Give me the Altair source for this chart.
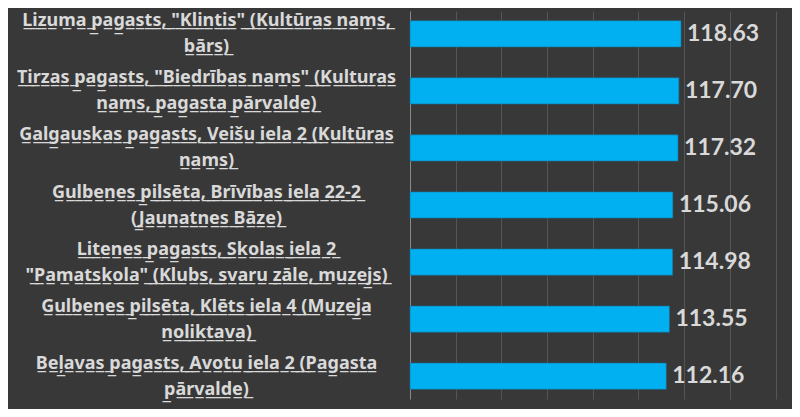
import altair as alt
import pandas as pd

line1 = [
    'Lizuma pagasts, "Klintis" (Kultūras nams,',
    'Tirzas pagasts, "Biedrības nams" (Kulturas',
    'Galgauskas pagasts, Veišu iela 2 (Kultūras',
    'Gulbenes pilsēta, Brīvības iela 22-2',
    'Litenes pagasts, Skolas iela 2',
    'Gulbenes pilsēta, Klēts iela 4 (Muzeja',
    'Beļavas pagasts, Avotu iela 2 (Pagasta',
]
line2 = [
    'bārs)',
    'nams, pagasta pārvalde)',
    'nams)',
    '(Jaunatnes Bāze)',
    '"Pamatskola" (Klubs, svaru zāle, muzejs)',
    'noliktava)',
    'pārvalde)',
]
values = [118.63, 117.70, 117.32, 115.06, 114.98, 113.55, 112.16]


def underline(s):
    return "".join(ch + "\u0332" for ch in s)


labels = [underline(a) + "|" + underline(b) for a, b in zip(line1, line2)]
df = pd.DataFrame({"label": labels, "value": values,
                   "txt": [f"{v:.2f}" for v in values]})

LFONT = "Noto Sans"
VFONT = "Lato"
TXT = "#d9d9d9"

y = alt.Y(
    "label:N",
    sort=None,
    title=None,
    scale=alt.Scale(paddingInner=0.54, paddingOuter=0.17),
    axis=alt.Axis(
        labelExpr="split(datum.label, '|')",
        labelAlign="center",
        labelBaseline="middle",
        labelOffset=-12.5,
        labelPadding=204,
        labelLineHeight=26,
        labelFont=LFONT,
        labelFontSize=18,
        labelFontWeight="bold",
        labelColor=TXT,
        labelLimit=0,
        ticks=False,
        tickSize=0,
        domain=True,
        domainColor="#8a8a8a",
        domainWidth=1,
        grid=False,
    ),
)

x = alt.X(
    "value:Q",
    title=None,
    scale=alt.Scale(domain=[0, 167.2], nice=False, zero=True),
    axis=alt.Axis(
        values=[0, 20, 40, 60, 80, 100, 120, 140, 160],
        labels=False,
        ticks=False,
        domain=False,
        grid=True,
        gridColor="#555555",
        gridWidth=1,
    ),
)

bars = alt.Chart(df).mark_bar(
    color="#00b0f0", stroke="#1a6e94", strokeWidth=0.6
).encode(x=x, y=y)

text = alt.Chart(df).mark_text(
    align="left", baseline="middle", dx=6, font=VFONT, fontSize=23,
    fontWeight="bold", color=TXT
).encode(x="value:Q", y=alt.Y("label:N", sort=None), text="txt:N")

chart = (
    alt.layer(bars, text)
    .properties(
        width=382,
        height=388,
        padding={"left": 402, "top": 3, "right": 0, "bottom": 10},
        autosize="none",
        background="#383838",
    )
    .configure_view(stroke=None)
)

chart.save("out.html", embed_options={"renderer": "svg", "actions": False})
